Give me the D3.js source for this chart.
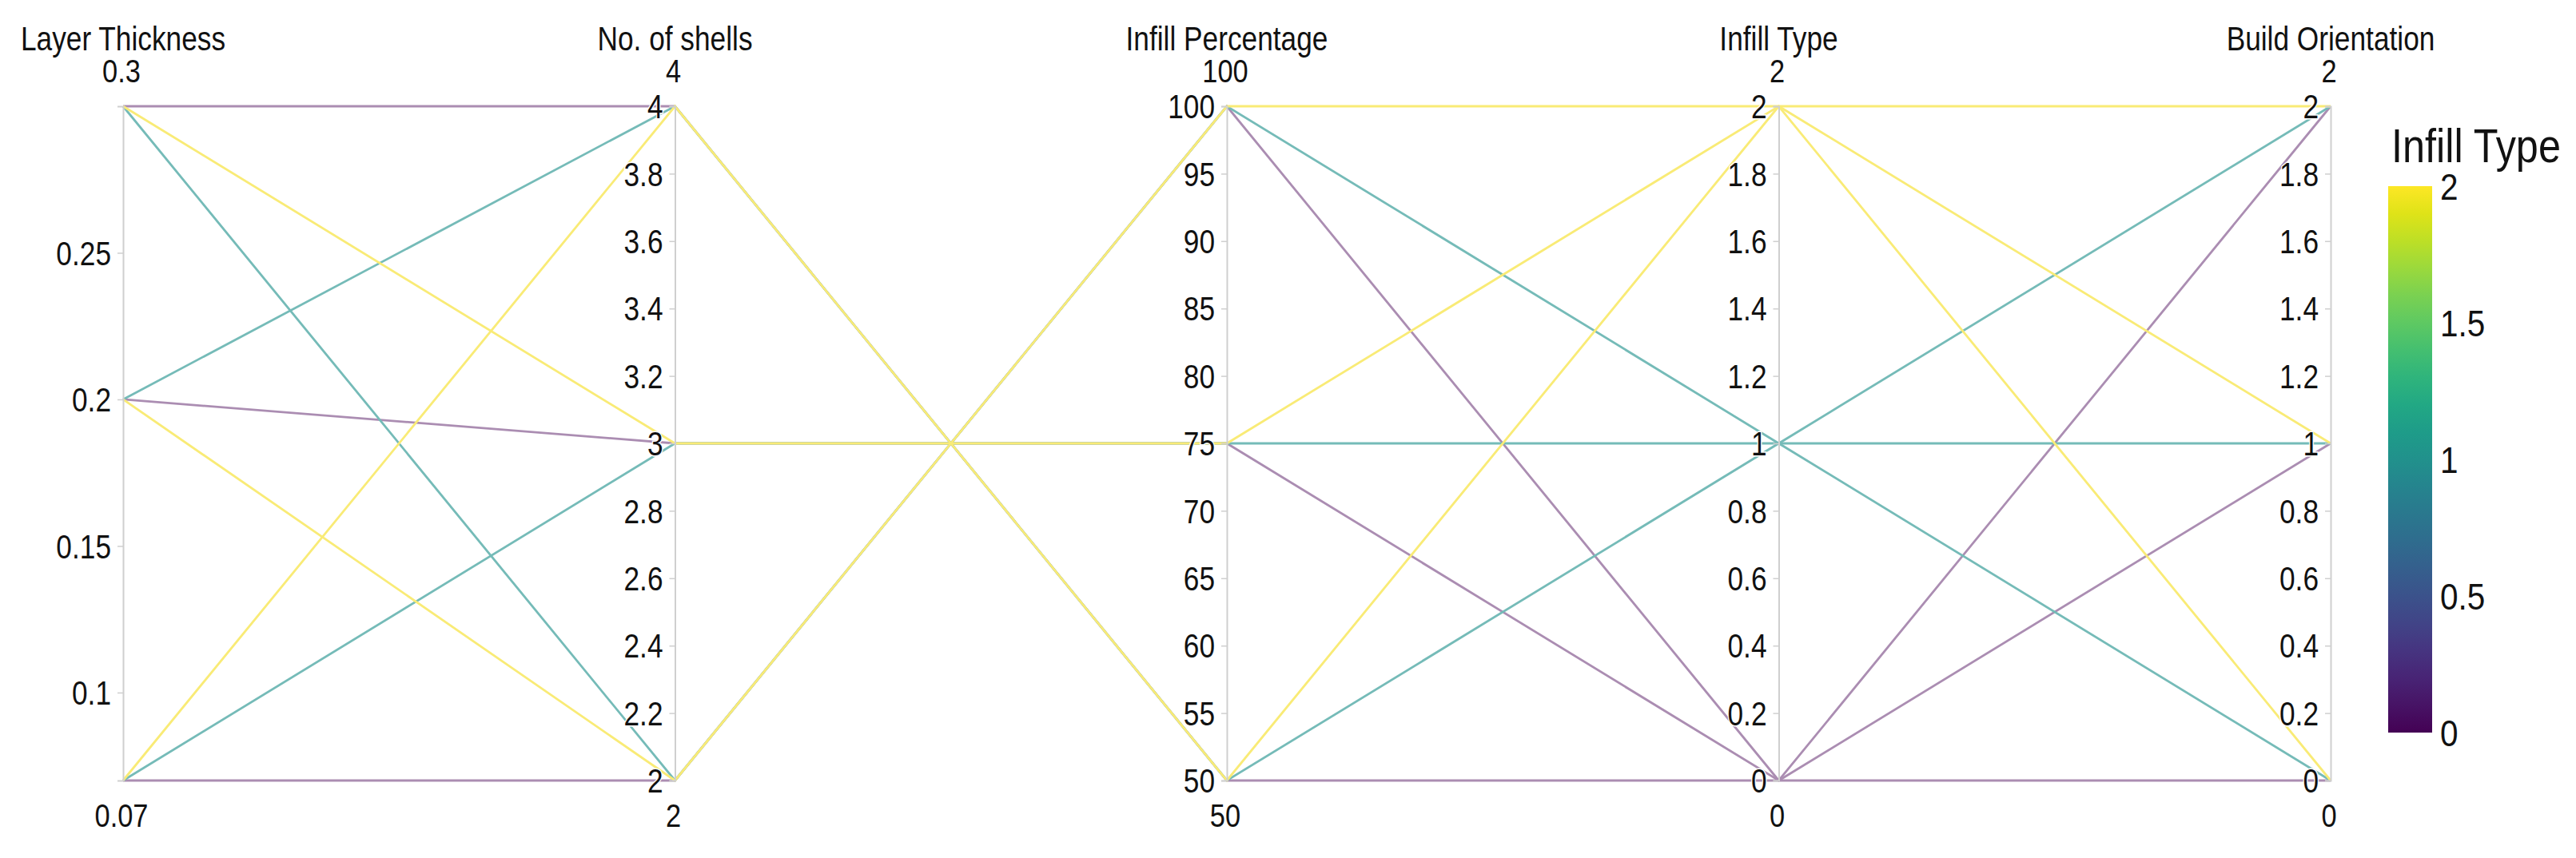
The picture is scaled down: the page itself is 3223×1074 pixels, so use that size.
<!DOCTYPE html>
<html>
<head>
<meta charset="utf-8">
<script src="https://cdn.jsdelivr.net/npm/d3@7"></script>
<style>
  body { margin: 0; background: #fff; }
  text { font-family: "Liberation Sans", Arial, sans-serif; fill: #111; }
</style>
</head>
<body>
<svg id="chart" width="3223" height="1074"></svg>
<script>
// dimensions (axis order left to right)
const dimNames = ["Layer Thickness", "No. of shells", "Infill Percentage", "Infill Type", "Build Orientation"];
const dimRanges = [[0.07, 0.3], [2, 4], [50, 100], [0, 2], [0, 2]];
const dimTicks = [
  [0.1, 0.15, 0.2, 0.25],
  [2, 2.2, 2.4, 2.6, 2.8, 3, 3.2, 3.4, 3.6, 3.8, 4],
  [50, 55, 60, 65, 70, 75, 80, 85, 90, 95, 100],
  [0, 0.2, 0.4, 0.6, 0.8, 1, 1.2, 1.4, 1.6, 1.8, 2],
  [0, 0.2, 0.4, 0.6, 0.8, 1, 1.2, 1.4, 1.6, 1.8, 2]
];

// the nine runs
const layerThickness = [0.07, 0.07, 0.07, 0.2, 0.2, 0.2, 0.3, 0.3, 0.3];
const shells = [2, 3, 4, 2, 3, 4, 2, 3, 4];
const infillPct = [100, 75, 50, 100, 75, 50, 100, 75, 50];
const infillType = [0, 1, 2, 2, 0, 1, 1, 2, 0];
const buildOrientation = [0, 1, 2, 1, 2, 0, 2, 0, 1];

const colorTicks = [0, 0.5, 1, 1.5, 2];

const columns = [layerThickness, shells, infillPct, infillType, buildOrientation];
let rows = layerThickness.map((d, i) => columns.map(c => c[i]));
// plotly draws higher colour values on top
rows.sort((a, b) => a[3] - b[3]);

const svg = d3.select("#chart");
const sx = 0.84; // the fonts in the reference look squeezed
const yTop = 133, yBottom = 977;

const xScale = d3.scalePoint()
  .domain(d3.range(dimNames.length))
  .range([154, 2916]);

const yScales = dimRanges.map(r => d3.scaleLinear().domain(r).range([yBottom, yTop]));

const colorScale = d3.scaleSequential(d3.interpolateViridis).domain([0, 2]);
// faded but opaque, so overlapping lines show only the top one
const lineColor = v => {
  if (v == 2) return d3.interpolateRgb("#f3f0f0", colorScale(v))(0.6);
  return d3.interpolateRgb("#ffffff", colorScale(v))(v == 0 ? 0.45 : 0.62);
};

// lines
let line = d3.line();
svg.append("g").selectAll("path")
  .data(rows).enter().append("path")
  .attr("d", d => line(d.map((v, j) => [xScale(j), yScales[j](v)])))
  .attr("fill", "none")
  .attr("stroke", d => lineColor(d[3]))
  .attr("stroke-width", 2.8);

// axes
dimNames.forEach((name, j) => {
  let g = svg.append("g").attr("transform", `translate(${xScale(j)},0)`);
  let axis = d3.axisLeft(yScales[j]).tickValues(dimTicks[j]).tickSize(7).tickFormat(d3.format("~g"));
  g.call(axis);
  g.select(".domain").attr("stroke", "#cfcfcf").attr("stroke-width", 2);
  g.selectAll(".tick line").attr("stroke", "#cfcfcf").attr("stroke-width", 1.5);
  g.selectAll(".tick text")
    .attr("x", 0).attr("dy", "0.35em")
    .attr("transform", `translate(-15,0) scale(${sx},1)`)
    .style("font-size", "42px")
    .style("font-family", '"Liberation Sans", Arial, sans-serif')
    .attr("fill", "#111")
    .attr("stroke", "#fff").attr("stroke-width", 3).attr("paint-order", "stroke");

  // title and range labels
  g.append("text")
    .attr("transform", `translate(0,63) scale(${sx},1)`)
    .attr("text-anchor", "middle").style("font-size", "42px").text(name);
  g.append("text")
    .attr("transform", `translate(-2,103) scale(${sx},1)`)
    .attr("text-anchor", "middle").style("font-size", "41px")
    .text(d3.format("~g")(dimRanges[j][1]));
  g.append("text")
    .attr("transform", `translate(-2,1035) scale(${sx},1)`)
    .attr("text-anchor", "middle").style("font-size", "41px")
    .text(d3.format("~g")(dimRanges[j][0]));
});

// colour bar
const cbX = 2988, cbW = 55, cbTop = 233, cbBottom = 917;
const grad = svg.append("defs").append("linearGradient")
  .attr("id", "viridis").attr("x1", 0).attr("y1", 1).attr("x2", 0).attr("y2", 0);
d3.range(0, 1.0001, 0.05).forEach(t => {
  grad.append("stop").attr("offset", t).attr("stop-color", d3.interpolateViridis(t));
});
svg.append("rect")
  .attr("x", cbX).attr("y", cbTop).attr("width", cbW).attr("height", cbBottom - cbTop)
  .attr("fill", "url(#viridis)");

const cbScale = d3.scaleLinear().domain([0, 2]).range([cbBottom, cbTop]);
svg.append("g").selectAll("text")
  .data(colorTicks).enter().append("text")
  .attr("transform", d => `translate(${cbX + cbW + 10},${cbScale(d)}) scale(0.88,1)`)
  .attr("dy", "0.36em")
  .style("font-size", "46px")
  .text(d => d3.format("~g")(d));

svg.append("text")
  .attr("transform", `translate(2992,203) scale(${sx},1)`)
  .style("font-size", "60px")
  .text("Infill Type");
</script>
</body>
</html>
